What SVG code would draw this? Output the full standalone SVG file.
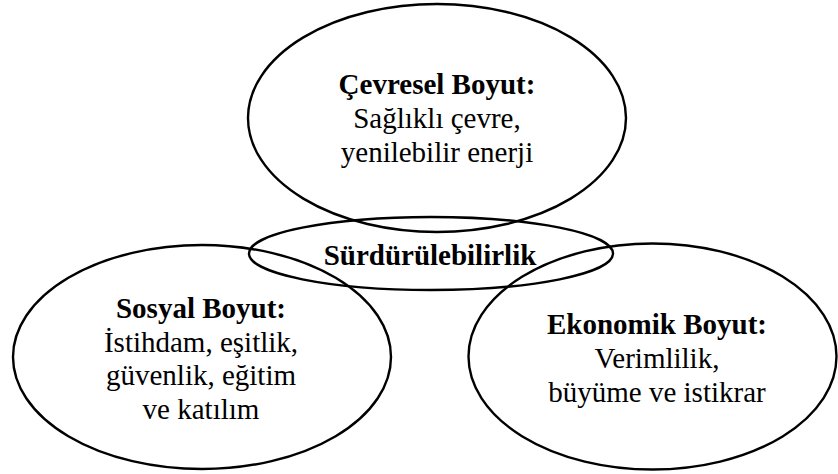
<svg xmlns="http://www.w3.org/2000/svg" width="838" height="474" viewBox="0 0 838 474">
<style>
.e{fill:none;stroke:#000;stroke-width:2.4}
text{font-family:"Liberation Serif","Times New Roman",serif;font-size:29px;fill:#000;text-anchor:middle}
.b{font-weight:bold}
</style>
<rect width="838" height="474" fill="#fff"/>
<g id="connectors"></g>
<g id="cevresel">
<ellipse class="e" cx="437" cy="118" rx="189" ry="114"/>
<text x="437" y="94" class="b">Çevresel Boyut:</text>
<text x="437" y="128">Sağlıklı çevre,</text>
<text x="437" y="162">yenilebilir enerji</text>
</g>
<g id="surdurulebilirlik">
<ellipse class="e" cx="431" cy="253.5" rx="182" ry="36.5"/>
<text x="430" y="265" class="b">Sürdürülebilirlik</text>
</g>
<g id="sosyal">
<ellipse class="e" cx="202" cy="357" rx="189" ry="112"/>
<text x="201" y="318" class="b">Sosyal Boyut:</text>
<text x="201" y="351.5">İstihdam, eşitlik,</text>
<text x="201" y="385">güvenlik, eğitim</text>
<text x="201" y="418.5">ve katılım</text>
</g>
<g id="ekonomik">
<ellipse class="e" cx="652.5" cy="356.5" rx="184" ry="113"/>
<text x="657" y="334" class="b">Ekonomik Boyut:</text>
<text x="657" y="368">Verimlilik,</text>
<text x="657" y="402">büyüme ve istikrar</text>
</g>
</svg>
